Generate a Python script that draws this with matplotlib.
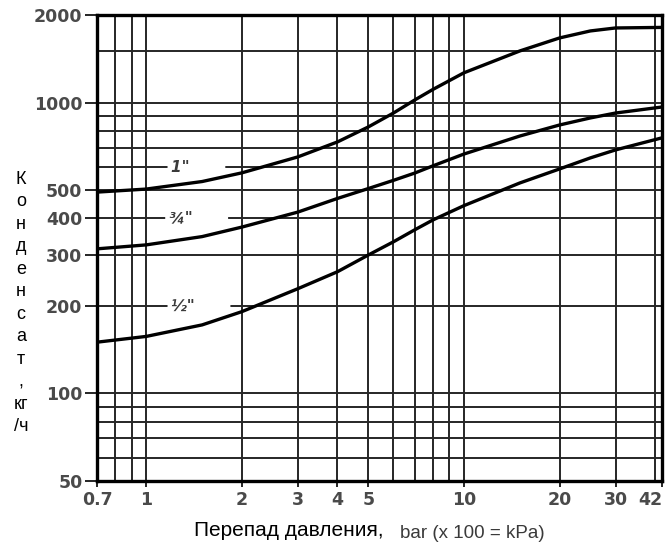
import matplotlib
matplotlib.use("Agg")
import matplotlib.pyplot as plt

# pressure difference, bar
dp = [0.7, 1, 1.5, 2, 3, 4, 5, 6, 7, 8, 10, 15, 20, 25, 30, 42]

# condensate, kg/h
q_1in = [492, 504, 535, 573, 650, 732, 824, 920, 1020, 1110, 1265, 1504, 1667, 1762, 1804, 1812]
q_34in = [314, 324, 346, 373, 420, 468, 506, 540, 572, 606, 665, 767, 837, 885, 920, 965]
q_12in = [150, 157, 172, 191, 229, 262, 299, 332, 365, 395, 442, 529, 591, 645, 687, 756]

x_ticks = [0.7, 1, 2, 3, 4, 5, 10, 20, 30, 42]
x_grid = [0.8, 0.9, 1, 2, 3, 4, 5, 6, 7, 8, 9, 10, 20, 30, 40]
y_ticks = [50, 100, 200, 300, 400, 500, 1000, 2000]
y_grid = [60, 70, 80, 90, 100, 200, 300, 400, 500, 600, 700, 800, 900, 1000, 1500]

labels = ['1"', '¾"', '½"']
label_x = [1.2, 1.18, 1.2]
label_y = [600, 400, 200]

fig = plt.figure(figsize=(6.67, 5.47), dpi=100)
ax = fig.add_axes([0.1454, 0.1207, 0.847, 0.852])

ax.set_xscale("log")
ax.set_yscale("log")
ax.set_xlim(0.7, 42)
ax.set_ylim(50, 2000)

for x in x_grid:
    ax.axvline(x, color="#262626", lw=1.4, zorder=1)
for y in y_grid:
    ax.axhline(y, color="#262626", lw=1.4, zorder=1)

for q in (q_1in, q_34in, q_12in):
    ax.plot(dp, q, color="black", lw=2.4, zorder=3, solid_capstyle="butt")

# curve names sit on a gridline, with a white patch after them (under the curves)
for txt, x, y in zip(labels, label_x, label_y):
    ax.text(x, y, txt + "      ", fontsize=11, fontweight="bold", style="italic",
            color="#3a3a3a", ha="left", va="center", zorder=2,
            bbox=dict(boxstyle="round,pad=0.25", fc="white", ec="none"))

ax.minorticks_off()
ax.set_xticks(x_ticks)
ax.set_xticklabels([str(v) for v in x_ticks])
ax.set_yticks(y_ticks)
ax.set_yticklabels([str(v) for v in y_ticks])
ax.tick_params(axis="x", length=4, width=1.2, pad=3)
ax.tick_params(axis="y", length=8.5, width=1.2, pad=2)
for lab in ax.get_xticklabels() + ax.get_yticklabels():
    lab.set_fontsize(12.5)
    lab.set_fontweight("bold")
    lab.set_color("#4a4a4a")
ax.get_xticklabels()[-1].set_horizontalalignment("right")

for side in ("left", "bottom", "top", "right"):
    ax.spines[side].set_linewidth(2.4)

ylab = ["К", "о", "н", "д", "е", "н", "с", "а", "т", ",", "кг", "/ч"]
fig.text(21 / 667, 1 - 303 / 547, "\n".join(ylab), fontsize=13, ha="center",
         va="center", linespacing=1.42, family="Liberation Sans")

fig.text(384 / 667, 1 - 530 / 547, "Перепад давления,", fontsize=15, ha="right",
         va="center", family="Liberation Sans")
fig.text(400 / 667, 1 - 533 / 547, "bar (x 100 = kPa)", fontsize=13.5, ha="left",
         va="center", color="#3a3a3a", family="Liberation Sans")

fig.savefig("out.png", dpi=100)
